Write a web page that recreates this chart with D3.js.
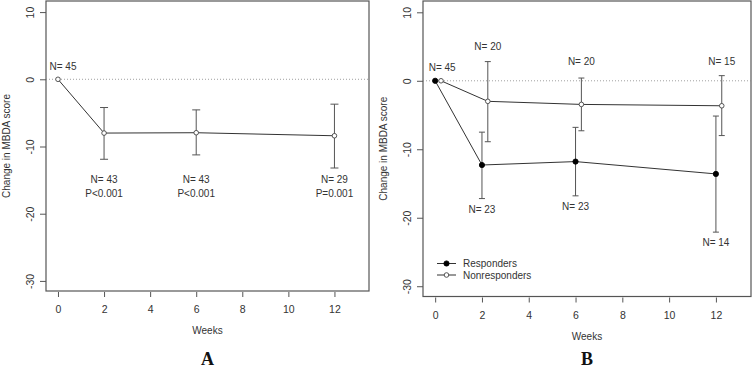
<!DOCTYPE html>
<html>
<head>
<meta charset="utf-8">
<script src="https://cdn.jsdelivr.net/npm/d3@7"></script>
<style>
  body { margin: 0; background: #fff; }
  svg text { font-family: "Liberation Sans", Arial, sans-serif; fill: #333; }
</style>
</head>
<body>
<svg id="chart" width="755" height="369"></svg>
<script>
// x ticks (weeks) and y ticks
var weekTicks = [0, 2, 4, 6, 8, 10, 12];
var scoreTicks = [10, 0, -10, -20, -30];

// panel A: all patients
var weeksA = [0, 2, 6, 12];
var meanA = [0, -8.0, -7.95, -8.4];
var hiA = [null, -4.2, -4.55, -3.7];
var loA = [null, -11.9, -11.25, -13.2];
var nA = ["N= 45", "N= 43", "N= 43", "N= 29"];
var pA = ["", "P<0.001", "P<0.001", "P=0.001"];

// panel B: responders / nonresponders
var weeksResp = [0, 2, 6, 12];
var meanResp = [0, -12.3, -11.8, -13.6];
var hiResp = [null, -7.5, -6.8, -5.15];
var loResp = [null, -17.2, -16.8, -22.1];
var nResp = ["N= 45", "N= 23", "N= 23", "N= 14"];

var weeksNon = [0.25, 2.25, 6.25, 12.25];
var meanNon = [0, -3.0, -3.45, -3.65];
var hiNon = [null, 2.8, 0.4, 0.75];
var loNon = [null, -8.9, -7.3, -8.0];
var nNon = ["", "N= 20", "N= 20", "N= 15"];

var svg = d3.select("#chart");
var lineCol = "#333";

function panel(o) {
  var g = svg.append("g");
  var x = d3.scaleLinear().domain([-0.52, 13.5]).range([o.left, o.right]);
  var y = d3.scaleLinear().domain([-31.5, 11.65]).range([o.bottom, o.top]);
  var mid = (o.left + o.right) / 2;

  // box
  g.append("rect")
    .attr("x", o.left).attr("y", o.top)
    .attr("width", o.right - o.left).attr("height", o.bottom - o.top)
    .attr("fill", "none").attr("stroke", "#555").attr("stroke-width", 1.2);

  // zero line (dotted)
  g.append("line")
    .attr("x1", o.left).attr("x2", o.right)
    .attr("y1", y(0)).attr("y2", y(0))
    .attr("stroke", "#888").attr("stroke-width", 0.8)
    .attr("stroke-dasharray", "1,2");

  // x axis
  var xa = g.append("g")
    .attr("transform", "translate(0," + (o.bottom + 1) + ")")
    .call(d3.axisBottom(x).tickValues(weekTicks).tickSize(5).tickPadding(9).tickFormat(d => d));
  xa.select(".domain").remove();
  xa.selectAll("line").attr("stroke", "#555");
  xa.selectAll("text").attr("font-size", 10.5).style("fill", "#333");

  // y axis
  var ya = g.append("g")
    .attr("transform", "translate(" + o.left + ",0)")
    .call(d3.axisLeft(y).tickValues(scoreTicks).tickSize(6).tickFormat(d => String(d)));
  ya.select(".domain").remove();
  ya.selectAll("line").attr("stroke", "#555");
  ya.selectAll("text")
    .attr("x", 0).attr("y", -12.5).attr("dy", 0)
    .attr("transform", "rotate(-90)")
    .attr("text-anchor", "middle")
    .attr("font-size", 10.5).style("fill", "#333");

  // axis titles
  g.append("text")
    .attr("transform", "translate(" + o.ytitleX + "," + ((o.top + o.bottom) / 2) + ") rotate(-90)")
    .attr("text-anchor", "middle").attr("font-size", 10)
    .text("Change in MBDA score");
  g.append("text")
    .attr("x", mid).attr("y", o.bottom + 43)
    .attr("text-anchor", "middle").attr("font-size", 10)
    .text("Weeks");
  g.append("text")
    .attr("x", mid).attr("y", 365)
    .attr("text-anchor", "middle").attr("font-size", 18).attr("font-weight", "bold")
    .style("font-family", "'Liberation Serif', 'Times New Roman', serif")
    .style("fill", "#111")
    .text(o.letter);

  return { g: g, x: x, y: y };
}

function series(p, weeks, mean, hi, lo, filled, cap) {
  var pts = weeks.map((w, i) => ({ w: w, m: mean[i], hi: hi[i], lo: lo[i] }));
  p.g.append("path")
    .datum(pts)
    .attr("fill", "none").attr("stroke", lineCol).attr("stroke-width", 1)
    .attr("d", d3.line().x(d => p.x(d.w)).y(d => p.y(d.m)));

  var eb = pts.filter(d => d.hi != null);
  p.g.selectAll(null).data(eb).enter().append("line")
    .attr("x1", d => p.x(d.w)).attr("x2", d => p.x(d.w))
    .attr("y1", d => p.y(d.hi)).attr("y2", d => p.y(d.lo))
    .attr("stroke", "#555").attr("stroke-width", 1);
  ["hi", "lo"].forEach(function (k) {
    p.g.selectAll(null).data(eb).enter().append("line")
      .attr("x1", d => p.x(d.w) - cap).attr("x2", d => p.x(d.w) + cap)
      .attr("y1", d => p.y(d[k])).attr("y2", d => p.y(d[k]))
      .attr("stroke", "#555").attr("stroke-width", 1);
  });

  p.g.selectAll(null).data(pts).enter().append("circle")
    .attr("cx", d => p.x(d.w)).attr("cy", d => p.y(d.m))
    .attr("r", filled ? 2.6 : 2.3)
    .attr("fill", filled ? "#000" : "#fff")
    .attr("stroke", filled ? "#000" : "#444").attr("stroke-width", 0.9);
}

// ---- Panel A
var pa = panel({ left: 46, right: 369, top: 1, bottom: 291, ytitleX: 10, letter: "A" });
series(pa, weeksA, meanA, hiA, loA, false, 4);
pa.g.selectAll(null).data(weeksA).enter().append("text")
  .attr("x", (d, i) => i === 0 ? pa.x(d) + 5 : pa.x(d))
  .attr("y", (d, i) => i === 0 ? pa.y(meanA[i]) - 9 : pa.y(-13.6) + 12)
  .attr("text-anchor", "middle").attr("font-size", 10)
  .text((d, i) => nA[i]);
pa.g.selectAll(null).data(weeksA.slice(1)).enter().append("text")
  .attr("x", d => pa.x(d))
  .attr("y", pa.y(-13.6) + 26)
  .attr("text-anchor", "middle").attr("font-size", 10)
  .text((d, i) => pA[i + 1]);

// ---- Panel B
var pb = panel({ left: 423, right: 751, top: 1, bottom: 296.5, ytitleX: 387, letter: "B" });
series(pb, weeksNon, meanNon, hiNon, loNon, false, 3);
series(pb, weeksResp, meanResp, hiResp, loResp, true, 3);

// N labels: nonresponders above, responders below
pb.g.selectAll(null).data(weeksNon.slice(1)).enter().append("text")
  .attr("x", d => pb.x(d))
  .attr("y", (d, i) => i === 0 ? 50 : 65)
  .attr("text-anchor", "middle").attr("font-size", 10)
  .text((d, i) => nNon[i + 1]);
pb.g.append("text")
  .attr("x", pb.x(weeksResp[0]) + 7).attr("y", pb.y(meanResp[0]) - 10)
  .attr("text-anchor", "middle").attr("font-size", 10)
  .text(nResp[0]);
pb.g.selectAll(null).data(weeksResp.slice(1)).enter().append("text")
  .attr("x", d => pb.x(d))
  .attr("y", (d, i) => pb.y(loResp[i + 1]) + 14)
  .attr("text-anchor", "middle").attr("font-size", 10)
  .text((d, i) => nResp[i + 1]);

// legend
var legend = [{ name: "Responders", filled: true }, { name: "Nonresponders", filled: false }];
var lg = pb.g.selectAll(null).data(legend).enter().append("g")
  .attr("transform", (d, i) => "translate(437," + (263.5 + i * 11.5) + ")");
lg.append("line").attr("x1", 0).attr("x2", 19).attr("stroke", lineCol).attr("stroke-width", 1);
lg.append("circle").attr("cx", 9.5).attr("r", d => d.filled ? 2.6 : 2.3)
  .attr("fill", d => d.filled ? "#000" : "#fff").attr("stroke", d => d.filled ? "#000" : "#444").attr("stroke-width", 0.9);
lg.append("text").attr("x", 26).attr("y", 3.6).attr("font-size", 10).text(d => d.name);
</script>
</body>
</html>
